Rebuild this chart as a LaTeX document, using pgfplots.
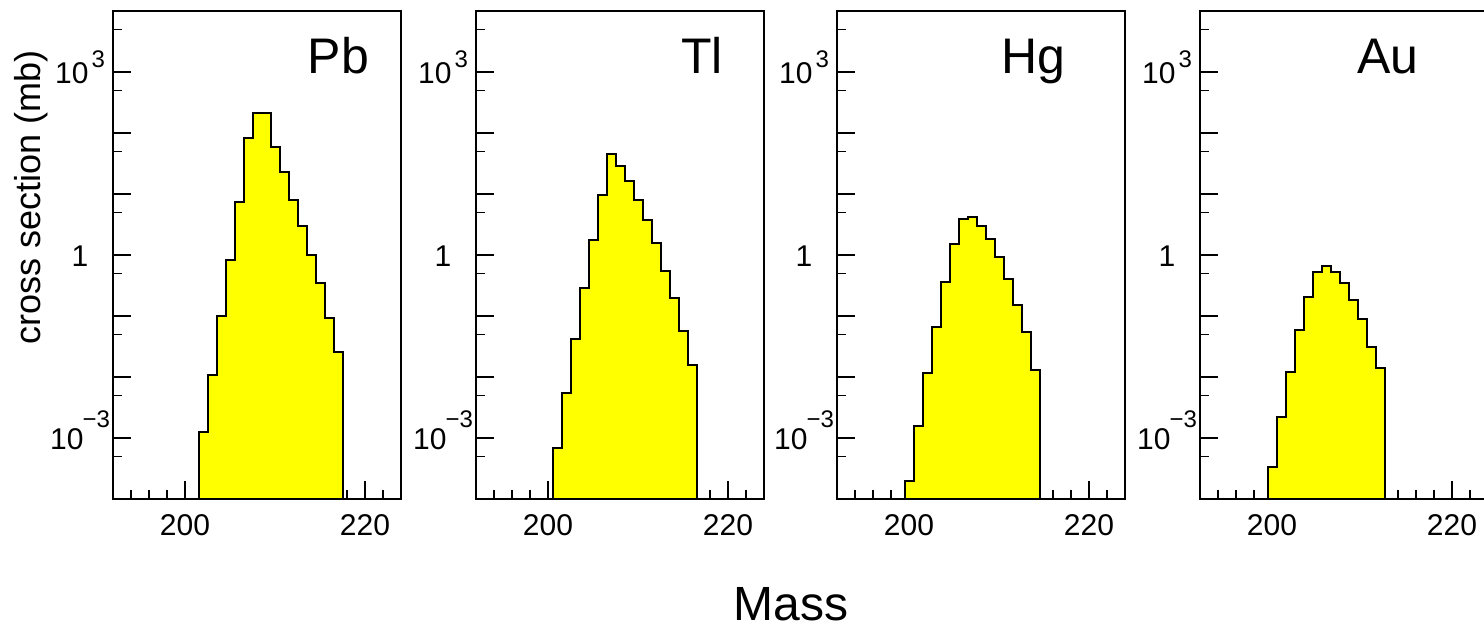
\documentclass[border=0pt]{standalone}
\usepackage{fontspec}
\setmainfont{Liberation Sans}
\usepackage{pgfplots}
\pgfplotsset{compat=1.18}
\definecolor{histyellow}{RGB}{255,255,0}
\newcommand{\supthree}{10\kern1.5pt\raisebox{7.6pt}{\fontsize{12}{12}\selectfont 3}}
\newcommand{\supmthree}{10\kern-0.5pt\raisebox{11pt}{\fontsize{12}{12}\selectfont −3}}
\pgfplotsset{
  panel/.style={
    scale only axis, width=144pt, height=244pt,
    anchor=south west, log origin y=infty,
    xmin=192, xmax=224, ymin=1e-4, ymax=1e4,
    axis line style={line width=0.9pt},
    tick align=inside, xtick pos=left, ytick pos=left,
    major tick length=9pt, minor tick length=4.5pt,
    every tick/.style={black, line width=0.8pt},
    xtick={200,210,220}, xticklabels={200,,220},
    minor xtick={194,196,198,202,204,206,208,212,214,216,218,222},
    ytick={1e-4,1e-3,1e-2,1e-1,1,1e1,1e2,1e3,1e4},
    yticklabels={,\supmthree,,,1,,,\supthree,},
    minor ytick={5e-4,5e-3,5e-2,5e-1,5,50,500,5000},
    xticklabel style={anchor=base, yshift=-18pt, font=\fontsize{15}{15}\selectfont},
    yticklabel style={anchor=base, xshift=-16.5pt, yshift=-5.5pt, font=\fontsize{15}{15}\selectfont},
  },
  hist/.style={const plot mark left, fill=histyellow, draw=black, line width=1pt, mark=none},
}
\begin{document}
\begin{tikzpicture}
\begin{semilogyaxis}[panel, at={(56.5pt,64.5pt)}]
\addplot[hist] coordinates {(201.5,1e-4)(201.5,1.26e-3)(202.5,1.09e-2)(203.5,0.1)(204.5,0.82)(205.5,7.45)(206.5,82)(207.5,211)(208.5,211)(209.5,58.6)(210.5,23.1)(211.5,8.04)(212.5,2.98)(213.5,0.99)(214.5,0.344)(215.5,0.094)(216.5,0.0261)(217.5,0.0261)(217.5,1e-4)} \closedcycle;
\end{semilogyaxis}
\begin{semilogyaxis}[panel, at={(238pt,64.5pt)}]
\addplot[hist] coordinates {(200.5,1e-4)(200.5,6.8e-4)(201.5,5.45e-3)(202.5,0.0417)(203.5,0.288)(204.5,1.78)(205.5,9.5)(206.5,44.5)(207.5,29)(208.5,16.3)(209.5,7.95)(210.5,3.78)(211.5,1.55)(212.5,0.541)(213.5,0.2)(214.5,0.057)(215.5,0.0157)(216.5,0.0157)(216.5,1e-4)} \closedcycle;
\end{semilogyaxis}
\begin{semilogyaxis}[panel, at={(418.5pt,64.5pt)}]
\addplot[hist] coordinates {(199.5,1e-4)(199.5,1.95e-4)(200.5,1.59e-3)(201.5,0.0116)(202.5,0.0663)(203.5,0.366)(204.5,1.50)(205.5,3.93)(206.5,4.24)(207.5,2.95)(208.5,1.85)(209.5,0.927)(210.5,0.405)(211.5,0.150)(212.5,0.0556)(213.5,0.0130)(214.5,0.0130)(214.5,1e-4)} \closedcycle;
\end{semilogyaxis}
\begin{semilogyaxis}[panel, at={(600pt,64.5pt)}]
\addplot[hist] coordinates {(199.5,1e-4)(199.5,3.3e-4)(200.5,2.17e-3)(201.5,0.0122)(202.5,0.0593)(203.5,0.205)(204.5,0.521)(205.5,0.653)(206.5,0.521)(207.5,0.344)(208.5,0.181)(209.5,0.0887)(210.5,0.0312)(211.5,0.0140)(212.5,0.0140)(212.5,1e-4)} \closedcycle;
\end{semilogyaxis}
\begin{scope}[every node/.style={anchor=base, inner sep=0pt, font=\fontsize{25}{25}\selectfont}]
\node at (169.2pt,277.2pt) {Pb};
\node at (351pt,277.2pt) {Tl};
\node at (516.7pt,277.2pt) {Hg};
\node at (694pt,277.2pt) {Au};
\end{scope}
\node[anchor=base, inner sep=0pt, font=\fontsize{24}{24}\selectfont] at (395.5pt,4pt) {Mass};
\node[anchor=base, inner sep=0pt, rotate=90, font=\fontsize{18}{18}\selectfont] at (20pt,215.5pt) {cross section (mb)};
\pgfresetboundingbox
\useasboundingbox (0,0) rectangle (742pt,314pt);
\end{tikzpicture}
\end{document}
